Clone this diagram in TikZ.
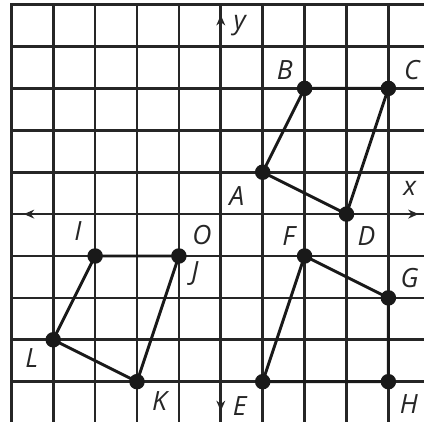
\documentclass[tikz,border=0pt]{standalone}
\usepackage{fontspec}
\setmainfont{Open Sans}
\usetikzlibrary{arrows.meta}
\begin{document}
\begin{tikzpicture}[x=1cm,y=1cm,
  gridline/.style={line width=1.8pt,color=black!85},
  axisline/.style={line width=1.8pt,color=black!85,{Stealth[length=7pt,width=6pt]}-{Stealth[length=7pt,width=6pt]}},
  edge/.style={line width=2pt,color=black!90},
  pt/.style={circle,fill=black!90,inner sep=0pt,minimum size=0.37cm},
  lab/.style={font=\fontsize{18}{18}\selectfont\itshape,text=black!85,inner sep=0pt}]
\useasboundingbox (-5.27,-4.96) rectangle (4.85,5.11);
\fill[white] (-5.27,-4.96) rectangle (4.85,5.11);
\draw[gridline,step=1] (-5,-4.96) grid (4.85,5);
\draw[gridline] (-5,-4.96) -- (-5,5) -- (4.85,5);
% axes
\coordinate (xl) at (-4.7,0);
\coordinate (xr) at (4.72,0);
\coordinate (yt) at (0,4.75);
\coordinate (yb) at (0,-4.7);
\draw[axisline] (xl) -- (xr);
\draw[axisline] (yb) -- (yt);
\node[lab] (ylab) at (0.45,4.51) {y};
\node[lab] (xlab) at (4.51,0.62) {x};
% points
\node[pt] (A) at (1,1) {};
\node[pt] (B) at (2,3) {};
\node[pt] (C) at (4,3) {};
\node[pt] (D) at (3,0) {};
\node[pt] (E) at (1,-4) {};
\node[pt] (F) at (2,-1) {};
\node[pt] (G) at (4,-2) {};
\node[pt] (H) at (4,-4) {};
\node[pt] (I) at (-3,-1) {};
\node[pt] (J) at (-1,-1) {};
\node[pt] (K) at (-2,-4) {};
\node[pt] (L) at (-4,-3) {};
% polygons
\draw[edge] (A.center) -- (B.center) -- (C.center) -- (D.center) -- (A.center);
\draw[edge] (E.center) -- (F.center) -- (G.center) -- (H.center) -- (E.center);
\draw[edge] (I.center) -- (J.center) -- (K.center) -- (L.center) -- (I.center);
% labels
\node[lab] (Al) at (0.38,0.43) {A};
\node[lab] (Bl) at (1.53,3.44) {B};
\node[lab] (Cl) at (4.56,3.44) {C};
\node[lab] (Dl) at (3.48,-0.52) {D};
\node[lab] (Fl) at (1.62,-0.52) {F};
\node[lab] (Gl) at (4.51,-1.53) {G};
\node[lab] (Hl) at (4.49,-4.53) {H};
\node[lab] (El) at (0.45,-4.58) {E};
\node[lab] (Il) at (-3.41,-0.41) {I};
\node[lab] (Ol) at (-0.45,-0.5) {O};
\node[lab] (Jl) at (-0.62,-1.43) {J};
\node[lab] (Ll) at (-4.51,-3.44) {L};
\node[lab] (Kl) at (-1.46,-4.46) {K};
\end{tikzpicture}
\end{document}
